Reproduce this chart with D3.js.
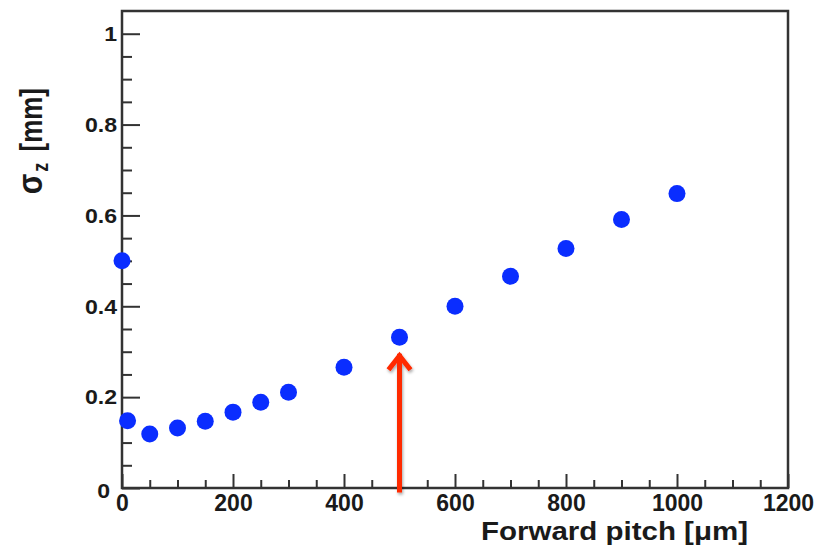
<!DOCTYPE html>
<html>
<head>
<meta charset="utf-8">
<script src="https://cdn.jsdelivr.net/npm/d3@7"></script>
<style>
  body { margin: 0; background: #fff; }
  text { font-family: "Liberation Sans", Arial, sans-serif; font-weight: bold; fill: #1a1a1a; }
</style>
</head>
<body>
<script>
// data
var pitch  = [0, 10, 50, 100, 150, 200, 250, 300, 400, 500, 600, 700, 800, 900, 1000];
var sigmaZ = [0.50, 0.148, 0.119, 0.132, 0.147, 0.167, 0.189, 0.211, 0.266, 0.332, 0.400, 0.466, 0.527, 0.591, 0.648];
var xTicks = [0, 200, 400, 600, 800, 1000, 1200];
var yTicks = [0, 0.2, 0.4, 0.6, 0.8, 1];
var arrowPitch = 500, arrowFrom = -0.01, arrowTo = 0.30;

var W = 821, H = 552;
var margin = {top: 11, right: 33, bottom: 64, left: 122};
var width = W - margin.left - margin.right,
    height = H - margin.top - margin.bottom;
var stretch = 1.18; // titles are drawn a bit wide in the picture

var svg = d3.select("body").append("svg")
    .attr("width", W)
    .attr("height", H);

var defs = svg.append("defs");
defs.append("filter").attr("id", "shadow")
    .attr("x", "-50%").attr("y", "-20%").attr("width", "200%").attr("height", "140%")
  .append("feDropShadow")
    .attr("dx", 1).attr("dy", 2).attr("stdDeviation", 1.5)
    .attr("flood-color", "#000").attr("flood-opacity", 0.35);

var g = svg.append("g")
    .attr("transform", "translate(" + margin.left + "," + margin.top + ")");

var x = d3.scaleLinear().domain([0, 1200]).range([0, width]);
var y = d3.scaleLinear().domain([0, 1.05]).range([height, 0]);

var xMinor = d3.range(0, 1201, 50).filter(function(d) { return d % 200 !== 0; });
var yMinor = d3.range(0, 21).map(function(i) { return i * 0.05; })
    .filter(function(d, i) { return i % 4 !== 0; });

//minor ticks
g.append("g")
    .attr("transform", "translate(0," + height + ")")
    .call(d3.axisBottom(x).tickValues(xMinor).tickSize(-8).tickSizeOuter(0).tickFormat(""))
    .call(function(a) { a.select(".domain").remove(); });
g.append("g")
    .call(d3.axisLeft(y).tickValues(yMinor).tickSize(-10).tickSizeOuter(0).tickFormat(""))
    .call(function(a) { a.select(".domain").remove(); });

//X-axis
var xAxis = g.append("g")
    .attr("transform", "translate(0," + height + ")")
    .call(d3.axisBottom(x).tickValues(xTicks).tickSize(-14).tickSizeOuter(0).tickPadding(7)
      .tickFormat(d3.format("d")));
xAxis.selectAll("text")
    .style("font-size", "23px")
    .attr("fill", "#1a1a1a");

//Y-axis
var yAxis = g.append("g")
    .call(d3.axisLeft(y).tickValues(yTicks).tickSize(-18).tickSizeOuter(0).tickPadding(5)
      .tickFormat(function(d) { return d === 0 || d === 1 ? d : d3.format(".1f")(d); }));
yAxis.selectAll("text")
    .attr("transform", "scale(1.1,1)")
    .attr("x", -5 / 1.1)
    .style("font-size", "21px")
    .attr("fill", "#1a1a1a");
yAxis.selectAll(".tick").filter(function(d) { return d === 0; }).select("text")
    .attr("x", -12 / 1.1).attr("dy", "0.45em");

g.selectAll(".tick line").attr("stroke", "#333").attr("stroke-width", 2);

// frame
g.append("rect")
    .attr("x", 0).attr("y", 0)
    .attr("width", width).attr("height", height)
    .attr("fill", "none")
    .attr("stroke", "#333")
    .attr("stroke-width", 2.5);

// points
g.selectAll("circle.pt")
    .data(pitch)
    .enter().append("circle")
    .attr("class", "pt")
    .attr("cx", function(d) { return x(d); })
    .attr("cy", function(d, i) { return y(sigmaZ[i]); })
    .attr("r", 8.5)
    .attr("fill", "#0a2dff");

// red arrow
var arrow = g.append("g").attr("filter", "url(#shadow)");
var ax = x(arrowPitch), ay = y(arrowTo);
arrow.append("line")
    .attr("x1", ax).attr("x2", ax)
    .attr("y1", y(arrowFrom)).attr("y2", ay + 2)
    .attr("stroke", "#ff2a00")
    .attr("stroke-width", 5);
arrow.append("path")
    .attr("d", "M" + (ax - 11) + "," + (ay + 18) + "L" + ax + "," + (ay + 4) + "L" + (ax + 11) + "," + (ay + 18))
    .attr("fill", "none")
    .attr("stroke", "#ff2a00")
    .attr("stroke-width", 5)
    .attr("stroke-linejoin", "miter");

// axis titles
svg.append("g")
    .attr("transform", "translate(748,540) scale(" + stretch + ",1)")
  .append("text")
    .attr("text-anchor", "end")
    .style("font-size", "25px")
    .text("Forward pitch [\u03bcm]");

var yt = svg.append("g")
    .attr("transform", "translate(42,88) scale(" + stretch + ",1) rotate(-90)")
  .append("text")
    .attr("text-anchor", "end")
    .style("font-size", "26px");
yt.append("tspan").style("font-size", "30px").text("\u03c3");
yt.append("tspan").attr("dy", 5).attr("dx", 2).style("font-size", "18px").text("z");
yt.append("tspan").attr("dy", -5).attr("dx", 4).text(" [mm]");
</script>
</body>
</html>
